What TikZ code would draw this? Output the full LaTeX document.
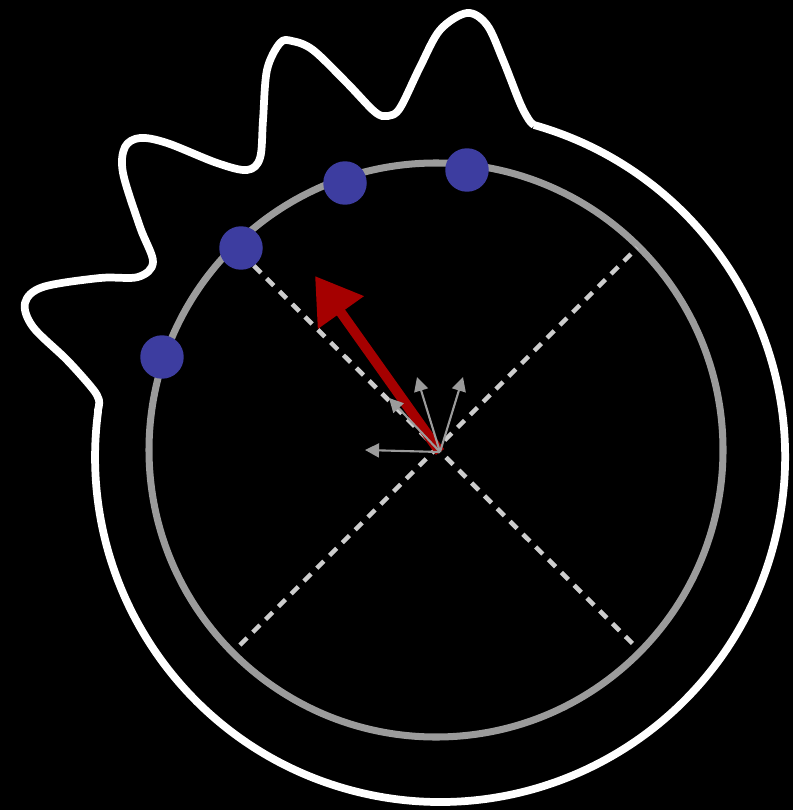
\documentclass[tikz,border=0pt]{standalone}
\usetikzlibrary{arrows.meta}
\definecolor{dotblue}{RGB}{61,61,160}
\definecolor{vecred}{RGB}{165,0,0}
\definecolor{ringgrey}{RGB}{155,155,155}
\definecolor{axisgrey}{RGB}{205,205,205}
\begin{document}
\begin{tikzpicture}[x=0.02cm,y=0.02cm,yscale=-1,
    dot/.style={circle,fill=dotblue,inner sep=0pt,minimum size=0.87cm},
    axis/.style={axisgrey,line width=2.6pt,dash pattern=on 5.7pt off 4.6pt},
    smallvec/.style={ringgrey,line width=1.2pt,-{Triangle[length=8pt,width=8pt]}}]
    \fill[black] (0,0) rectangle (793,810);
    \useasboundingbox (0,0) rectangle (793,810);
    % outer boundary: big arc and the wavy part
    \draw[white,line width=4.4pt,line join=round]
        (534,125) arc[start angle=-74.2,end angle=187.5,radius=345]
        -- plot[smooth,tension=0.55] coordinates {(98,410) (99,400) (92,388) (67,360) (33,327)
            (25,303) (43,287) (100,278) (138,277) (153,262) (140,227) (123,173) (125,147)
            (140,138) (167,143) (217,163) (247,170) (260,158) (263,120) (267,70) (280,43)
            (292,41) (313,50) (347,83) (375,112) (388,116) (400,108) (420,67) (440,30)
            (467,13) (487,25) (503,60) (520,103) (529,120) (534,125)};
    % ring
    \draw[ringgrey,line width=4pt] (436,450) circle[radius=287];
    % axes
    \coordinate (a1) at (240,645);
    \coordinate (a2) at (637,248);
    \coordinate (b1) at (241,253);
    \coordinate (b2) at (637,648);
    \draw[axis] (a1) -- (a2);
    \draw[axis] (b1) -- (b2);
    % vectors
    \coordinate (O) at (440,452);
    \coordinate (R) at (315,276);
    \draw[vecred,line width=5.7pt,-{Triangle[length=25.5pt,width=30.6pt]}] (O) -- (R);
    \coordinate (v1) at (365,450);
    \coordinate (v2) at (389,398);
    \coordinate (v3) at (417,377);
    \coordinate (v4) at (463,377);
    \draw[smallvec] (O) -- (v1);
    \draw[smallvec] (O) -- (v2);
    \draw[smallvec] (O) -- (v3);
    \draw[smallvec] (O) -- (v4);
    % dots on the ring
    \node[dot] (d1) at (162,357) {};
    \node[dot] (d2) at (241,248) {};
    \node[dot] (d3) at (345,183) {};
    \node[dot] (d4) at (467,170) {};
\end{tikzpicture}
\end{document}
